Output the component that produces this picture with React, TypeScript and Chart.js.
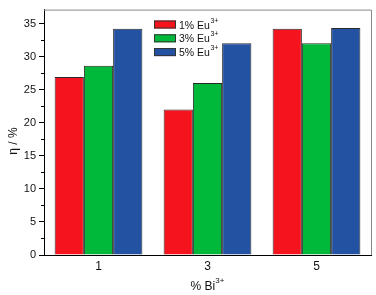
import { useEffect, useRef } from 'react';
import { Chart, registerables } from 'chart.js';

Chart.register(...registerables);

const categories = ['1', '3', '5'];
const eu1 = [26.9, 22.0, 34.2];
const eu3 = [28.6, 26.0, 32.0];
const eu5 = [34.2, 32.0, 34.3];
const seriesNames = ['1% Eu', '3% Eu', '5% Eu'];
const seriesSup = '3+';
const yTickValues = [0, 5, 10, 15, 20, 25, 30, 35];
const yMinorValues = [2.5, 7.5, 12.5, 17.5, 22.5, 27.5, 32.5];
const xTitle = '% Bi';
const xTitleSup = '3+';
const yTitle = 'η / %';

const FONT = '"Liberation Sans", Arial, sans-serif';
const colors = ['#F5141E', '#00B93A', '#2352A3'];

const decor = {
  id: 'decor',
  afterDraw(chart: any) {
    const ctx = chart.ctx;
    const { left, right, top, bottom } = chart.chartArea;
    const y = chart.scales.y;
    ctx.save();
    // frame top/right
    ctx.strokeStyle = '#8a8a8a';
    ctx.lineWidth = 1;
    ctx.beginPath();
    ctx.moveTo(left, top + 0.5);
    ctx.lineTo(right + 0.5, top + 0.5);
    ctx.lineTo(right + 0.5, bottom);
    ctx.stroke();
    // minor ticks
    ctx.strokeStyle = '#000';
    ctx.beginPath();
    yMinorValues.forEach((v) => {
      const py = Math.round(y.getPixelForValue(v)) + 0.5;
      ctx.moveTo(left - 3, py);
      ctx.lineTo(left, py);
    });
    ctx.stroke();
    // titles
    ctx.fillStyle = '#111';
    ctx.textBaseline = 'alphabetic';
    ctx.font = `12px ${FONT}`;
    const cx = (left + right) / 2;
    const wMain = ctx.measureText(xTitle).width;
    ctx.font = `8px ${FONT}`;
    const wSup = ctx.measureText(xTitleSup).width;
    const startX = cx - (wMain + wSup) / 2;
    ctx.font = `12px ${FONT}`;
    ctx.textAlign = 'left';
    ctx.fillText(xTitle, startX, 290);
    ctx.font = `8px ${FONT}`;
    ctx.fillText(xTitleSup, startX + wMain, 283);
    // y title
    ctx.save();
    ctx.translate(17, 141);
    ctx.rotate(-Math.PI / 2);
    ctx.font = `12px ${FONT}`;
    ctx.textAlign = 'center';
    ctx.fillText(yTitle, 0, 0);
    ctx.restore();
    // legend
    const ds = chart.data.datasets;
    ds.forEach((d: any, i: number) => {
      const cy = 24.5 + i * 13.8;
      ctx.fillStyle = d.backgroundColor;
      ctx.fillRect(154, cy - 4, 22, 8);
      ctx.strokeStyle = '#333';
      ctx.strokeRect(154.5, cy - 3.5, 21, 7);
      ctx.fillStyle = '#111';
      ctx.font = `10.5px ${FONT}`;
      ctx.textAlign = 'left';
      ctx.fillText(seriesNames[i], 179, cy + 4);
      const w = ctx.measureText(seriesNames[i]).width;
      ctx.font = `7px ${FONT}`;
      ctx.fillText(seriesSup, 179 + w + 0.5, cy - 2);
    });
    ctx.restore();
  },
};

export default function App() {
  const ref = useRef<HTMLCanvasElement>(null);
  useEffect(() => {
    document.body.style.margin = '0';
    const chart = new Chart(ref.current!, {
      type: 'bar',
      data: {
        labels: categories,
        datasets: [eu1, eu3, eu5].map((data, i) => ({
          label: seriesNames[i] + seriesSup,
          data,
          backgroundColor: colors[i],
          borderColor: '#2a2a2a',
          borderWidth: 1,
          barPercentage: 1,
          categoryPercentage: 0.805,
        })),
      },
      options: {
        animation: false,
        responsive: false,
        maintainAspectRatio: false,
        layout: { padding: { top: 7, right: 5, left: 0, bottom: 0 } },
        plugins: { legend: { display: false }, tooltip: { enabled: false } },
        scales: {
          x: {
            offset: true,
            grid: { display: false, drawTicks: false },
            border: { color: '#000', width: 1 },
            ticks: { color: '#111', font: { family: FONT, size: 12 }, padding: 4 },
            afterFit: (s: any) => { s.height = 40; },
          },
          y: {
            min: 0,
            max: 37.1,
            afterBuildTicks: (s: any) => { s.ticks = yTickValues.map((v) => ({ value: v })); },
            grid: { drawOnChartArea: false, tickLength: 5, tickColor: '#000' },
            border: { color: '#000', width: 1 },
            ticks: { color: '#111', font: { family: FONT, size: 11 }, padding: 3 },
            afterFit: (s: any) => { s.width = 44; },
          },
        },
      },
      plugins: [decor],
    });
    return () => chart.destroy();
  }, []);
  return <canvas ref={ref} width={376} height={295} style={{ display: 'block' }} />;
}
